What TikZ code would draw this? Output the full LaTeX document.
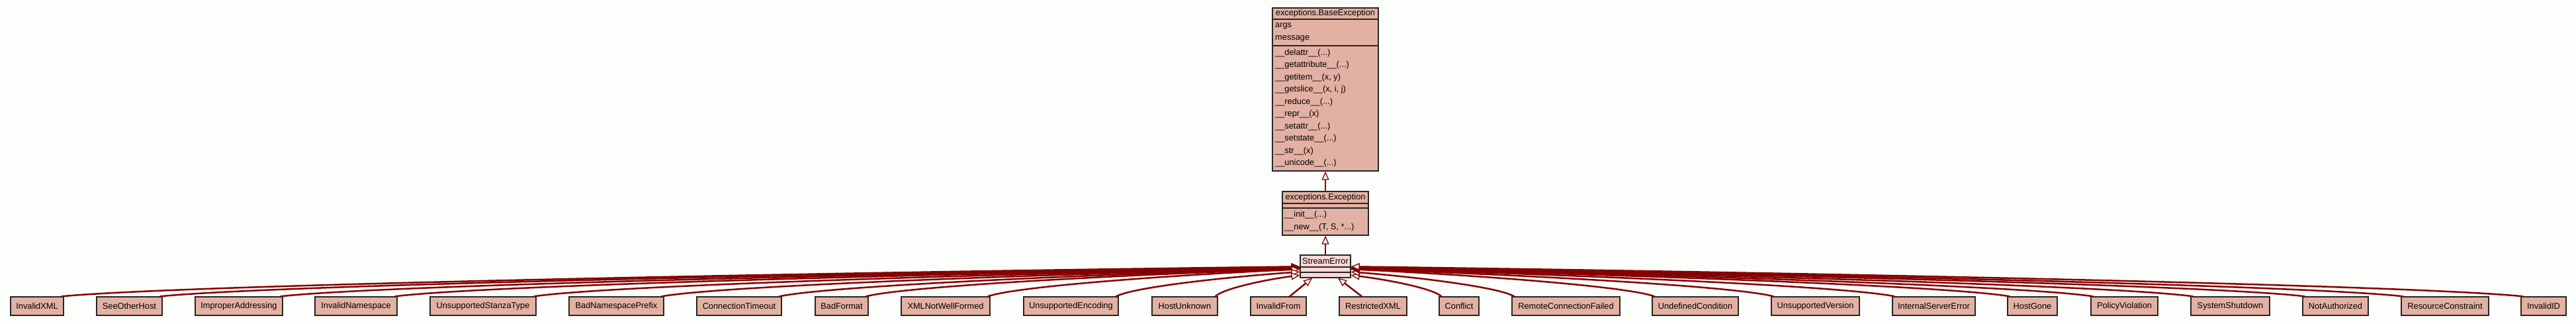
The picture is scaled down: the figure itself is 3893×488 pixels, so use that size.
\documentclass[tikz,border=0pt]{standalone}
\usepackage{fontspec}
\setmainfont{Liberation Sans}
\usetikzlibrary{arrows.meta,calc}
\definecolor{clsfill}{HTML}{E3B1A3}
\definecolor{sefill}{HTML}{FFD7D7}
\definecolor{edgec}{HTML}{850000}
\definecolor{bgc}{HTML}{FCFEFC}
\newcommand\clsfont{\fontsize{12.8}{15}\selectfont}
\newcommand\tdots{...}
\begin{document}
\begin{tikzpicture}[x=1pt,y=-1pt,
  cls/.style={draw=black!85, line width=1.3pt, fill=clsfill, minimum height=28pt, inner sep=0pt, font=\clsfont},
  umlbox/.style={draw=black!85, line width=1.3pt, fill=clsfill, inner sep=0pt},
  txt/.style={inner sep=0pt, font=\clsfont, anchor=west},
  ctxt/.style={inner sep=0pt, font=\clsfont},
  sepline/.style={draw=black!85, line width=1.3pt},
  edge/.style={draw=edgec, line width=2.5pt, -{Triangle[length=13pt,width=11pt,fill=white,line width=1.3pt]}},
 ]
\useasboundingbox (0,0) rectangle (3893,488);
\fill[bgc] (0,0) rectangle (3893,488);

% ---------- BaseException ----------
\node[umlbox, minimum width=160pt, minimum height=246pt] (BaseException) at (2003,135) {};
\node[ctxt] (bename) at (2003,20.5) {exceptions.BaseException};
\draw[sepline] (1923,29) -- (2083,29);
\draw[sepline] (1923,69) -- (2083,69);
\node[txt] (beargs) at (1927,39) {args};
\node[txt] (bemsg) at (1927,58) {message};
\node[txt] (bem1) at (1927,80) {\_\_delattr\_\_(\tdots)};
\node[txt] (bem2) at (1927,98.5) {\_\_getattribute\_\_(\tdots)};
\node[txt] (bem3) at (1927,117) {\_\_getitem\_\_(x, y)};
\node[txt] (bem4) at (1927,135.5) {\_\_getslice\_\_(x, i, j)};
\node[txt] (bem5) at (1927,154) {\_\_reduce\_\_(\tdots)};
\node[txt] (bem6) at (1927,172.5) {\_\_repr\_\_(x)};
\node[txt] (bem7) at (1927,191) {\_\_setattr\_\_(\tdots)};
\node[txt] (bem8) at (1927,209.5) {\_\_setstate\_\_(\tdots)};
\node[txt] (bem9) at (1927,228) {\_\_str\_\_(x)};
\node[txt] (bem10) at (1927,246.5) {\_\_unicode\_\_(\tdots)};

% ---------- Exception ----------
\node[umlbox, minimum width=130pt, minimum height=66pt] (Exception) at (2003,322) {};
\node[ctxt] (exname) at (2003,298) {exceptions.Exception};
\draw[sepline] (1938,307) -- (2068,307);
\draw[sepline] (1938,314) -- (2068,314);
\node[txt] (exm1) at (1941,324) {\_\_init\_\_(\tdots)};
\node[txt] (exm2) at (1941,343) {\_\_new\_\_(T, S, *\tdots)};

% ---------- StreamError ----------
\node[umlbox, fill=sefill, minimum width=76pt, minimum height=34pt] (StreamError) at (2003,402) {};
\node[ctxt] (sename) at (2003,394) {StreamError};
\draw[sepline] (1965,403) -- (2041,403);
\draw[sepline] (1965,411) -- (2041,411);

% ---------- subclasses ----------
\foreach \n/\cx/\w in {InvalidXML/56/80, SeeOtherHost/195.5/99, ImproperAddressing/361/132, InvalidNamespace/538/124, UnsupportedStanzaType/730/160, BadNamespacePrefix/931.5/143, ConnectionTimeout/1117/128, BadFormat/1272/80, XMLNotWellFormed/1429/134, UnsupportedEncoding/1618.5/143, HostUnknown/1790.5/99, InvalidFrom/1932/84, RestrictedXML/2075/102, Conflict/2205/60, RemoteConnectionFailed/2366.5/163, UndefinedCondition/2562/130, UnsupportedVersion/2743.5/133, InternalServerError/2922.5/125, HostGone/3071.5/75, PolicyViolation/3210.5/101, SystemShutdown/3370.5/119, NotAuthorized/3529.5/99, ResourceConstraint/3695/132, InvalidID/3844/68}{
  \node[cls, minimum width=\w] (\n) at (\cx,462) {\n};
}

% ---------- inheritance edges ----------
\draw[edge] (Exception.north) -- (BaseException.south);
\draw[edge] (StreamError.north) -- (Exception.south);

\foreach \n/\cx/\w/\edy in {InvalidXML/56/80/18, SeeOtherHost/195.5/99/18.5, ImproperAddressing/361/132/19, InvalidNamespace/538/124/19.5, UnsupportedStanzaType/730/160/20, BadNamespacePrefix/931.5/143/20.5, ConnectionTimeout/1117/128/21, BadFormat/1272/80/21.5, XMLNotWellFormed/1429/134/22, UnsupportedEncoding/1618.5/143/26, HostUnknown/1790.5/99/31}{
  \pgfmathsetmacro\sx{\cx+\w/2-4}
  \pgfmathsetmacro\dx{1965-\sx}
  \pgfmathsetmacro\dy{448-385-\edy}
  \pgfmathsetmacro\ax{0.1*\dx}
  \pgfmathsetmacro\ay{0.4*\dy}
  \pgfmathsetmacro\bx{0.35*\dx}
  \pgfmathsetmacro\by{0.18*\dy}
  \draw[edge] ($(\n.north east)+(-4,0)$) .. controls +(\ax,-\ay) and +(-\bx,\by) .. ($(StreamError.north west)+(0,\edy)$);
}

\foreach \n/\cx/\w/\edy in {Conflict/2205/60/31, RemoteConnectionFailed/2366.5/163/26, UndefinedCondition/2562/130/22, UnsupportedVersion/2743.5/133/21.5, InternalServerError/2922.5/125/21, HostGone/3071.5/75/20.5, PolicyViolation/3210.5/101/20, SystemShutdown/3370.5/119/19.5, NotAuthorized/3529.5/99/19, ResourceConstraint/3695/132/18.5, InvalidID/3844/68/18}{
  \pgfmathsetmacro\sx{\cx-\w/2+4}
  \pgfmathsetmacro\dx{\sx-2041}
  \pgfmathsetmacro\dy{448-385-\edy}
  \pgfmathsetmacro\ax{0.1*\dx}
  \pgfmathsetmacro\ay{0.4*\dy}
  \pgfmathsetmacro\bx{0.35*\dx}
  \pgfmathsetmacro\by{0.18*\dy}
  \draw[edge] ($(\n.north west)+(4,0)$) .. controls +(-\ax,-\ay) and +(\bx,\by) .. ($(StreamError.north east)+(0,\edy)$);
}

\draw[edge] ($(InvalidFrom.north)+(17,0)$) -- ($(StreamError.south)+(-20,0)$);
\draw[edge] ($(RestrictedXML.north)+(-17,0)$) -- ($(StreamError.south)+(19,0)$);
\end{tikzpicture}
\end{document}
